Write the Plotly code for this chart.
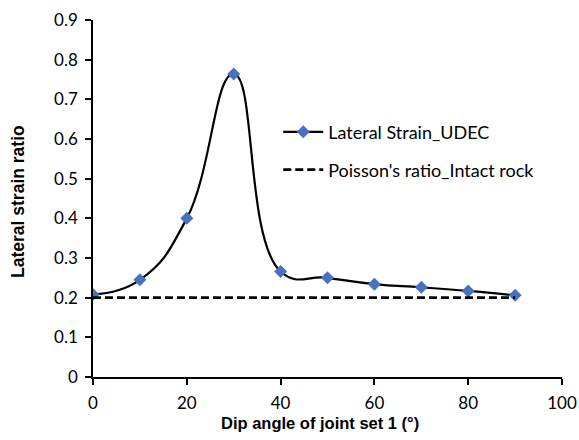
import plotly.graph_objects as go

dip_angle = [0, 10, 20, 30, 40, 50, 60, 70, 80, 90]
lateral_strain = [0.208, 0.245, 0.400, 0.764, 0.266, 0.250, 0.234, 0.226, 0.217, 0.206]
poisson_x = [0, 90]
poisson_ratio = [0.2, 0.2]

fig = go.Figure()
fig.add_trace(go.Scatter(
    x=dip_angle, y=lateral_strain, mode="lines+markers",
    name="Lateral Strain_UDEC", legend="legend",
    line=dict(color="black", width=2.2, shape="spline", smoothing=1.3),
    marker=dict(symbol="diamond", size=10, color="#4a70c0"),
))
fig.add_trace(go.Scatter(
    x=poisson_x, y=poisson_ratio, mode="lines",
    name="Poisson's ratio_Intact rock", legend="legend2",
    line=dict(color="black", width=2.8, dash="8px,4px"),
))

leg_common = dict(xanchor="left", yanchor="middle",
                  font=dict(size=18, family="Lato, sans-serif", color="black"),
                  bgcolor="rgba(0,0,0,0)", itemwidth=40)

fig.update_layout(
    width=579, height=440,
    margin=dict(l=93, r=17, t=20, b=63),
    paper_bgcolor="white", plot_bgcolor="white",
    font=dict(family="Lato, Open Sans, sans-serif", color="black"),
    legend=dict(x=0.395, y=0.686, **leg_common),
    legend2=dict(x=0.395, y=0.580, **leg_common),
    showlegend=True,
    annotations=[
        dict(text="<b>Dip angle of joint set 1 (°)</b>", xref="paper", yref="paper",
             x=0.484, y=-0.129, xanchor="center", yanchor="middle", showarrow=False,
             font=dict(size=16.5, family="Liberation Sans, Arial, sans-serif", color="black")),
        dict(text="<b>Lateral strain ratio</b>", xref="paper", yref="paper",
             x=-0.16, y=0.493, xanchor="center", yanchor="middle", showarrow=False,
             textangle=-90,
             font=dict(size=17.5, family="Liberation Sans, Arial, sans-serif", color="black")),
    ],
)
fig.update_xaxes(
    range=[0, 100], dtick=20, tick0=0, automargin=False,
    showline=True, linecolor="black", linewidth=1.6,
    ticks="outside", ticklen=6, tickcolor="black", tickwidth=1.6,
    ticklabelstandoff=4,
    showgrid=False, zeroline=False,
    tickfont=dict(size=17, family="Lato, sans-serif"),
)
fig.update_yaxes(
    range=[0, 0.9], dtick=0.1, tick0=0, tickformat=".1~f", automargin=False,
    showline=True, linecolor="black", linewidth=1.6,
    ticks="outside", ticklen=6, tickcolor="black", tickwidth=1.6,
    ticklabelstandoff=4,
    showgrid=False, zeroline=False,
    tickfont=dict(size=17, family="Lato, sans-serif"),
)
fig.write_html("out.html", config={"displayModeBar": False},
               post_script="document.body.style.margin='0';")
